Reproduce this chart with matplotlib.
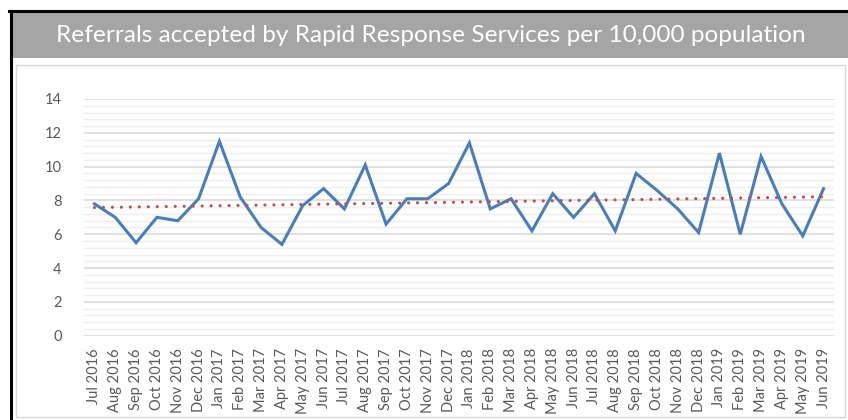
import numpy as np
import matplotlib
matplotlib.use("Agg")
import matplotlib.pyplot as plt
from matplotlib.patches import Rectangle
from matplotlib.lines import Line2D

months = ["Jul 2016", "Aug 2016", "Sep 2016", "Oct 2016", "Nov 2016", "Dec 2016",
          "Jan 2017", "Feb 2017", "Mar 2017", "Apr 2017", "May 2017", "Jun 2017",
          "Jul 2017", "Aug 2017", "Sep 2017", "Oct 2017", "Nov 2017", "Dec 2017",
          "Jan 2018", "Feb 2018", "Mar 2018", "Apr 2018", "May 2018", "Jun 2018",
          "Jul 2018", "Aug 2018", "Sep 2018", "Oct 2018", "Nov 2018", "Dec 2018",
          "Jan 2019", "Feb 2019", "Mar 2019", "Apr 2019", "May 2019", "Jun 2019"]
referrals = [7.8, 7.0, 5.5, 7.0, 6.8, 8.1,
             11.5, 8.2, 6.4, 5.4, 7.7, 8.7,
             7.5, 10.1, 6.6, 8.1, 8.1, 9.0,
             11.4, 7.5, 8.1, 6.2, 8.4, 7.0,
             8.4, 6.2, 9.6, 8.6, 7.5, 6.1,
             10.8, 6.0, 10.6, 7.8, 5.9, 8.7]
title = "Referrals accepted by Rapid Response Services per 10,000 population"

W, H = 848, 420
fig = plt.figure(figsize=(W / 100, H / 100), dpi=100)
plt.rcParams['font.family'] = ['Lato', 'DejaVu Sans']


def fx(px):
    return px / W


def fy(py):
    return 1 - py / H


# frame decorations (behind the axes)
fig.add_artist(Rectangle((fx(16), fy(417)), fx(845) - fx(16), fy(65) - fy(417),
                         transform=fig.transFigure, facecolor="white",
                         edgecolor="#d9d9d9", lw=1, zorder=-2))
fig.add_artist(Rectangle((fx(11), fy(58)), 1 - fx(11), fy(11) - fy(58),
                         transform=fig.transFigure, facecolor="#a5a5a5", lw=0,
                         zorder=-2))
fig.add_artist(Line2D([fx(9), 1], [fy(11), fy(11)], transform=fig.transFigure,
                      color="black", lw=2.2, zorder=-1))
fig.add_artist(Line2D([fx(10.5), fx(10.5)], [fy(11), 0], transform=fig.transFigure,
                      color="black", lw=2.2, zorder=-1))
fig.text(fx(431), fy(36), title, color="white", fontsize=17.6,
         ha="center", va="center")

ax = fig.add_axes([fx(84), fy(335.7), fx(834) - fx(84), fy(99) - fy(335.7)])
ax.set_zorder(1)
ax.patch.set_alpha(0)
x = np.arange(len(months))

ax.set_ylim(0, 14)
ax.set_xlim(-0.5, len(months) - 0.5)
ax.set_yticks(np.arange(0, 15, 2))
ax.set_yticks(np.arange(0, 14.01, 0.4), minor=True)
ax.grid(axis="y", which="major", color="#d9d9d9", lw=1.1)
ax.grid(axis="y", which="minor", color="#efefef", lw=1.0)
ax.set_axisbelow(True)
for s in ax.spines.values():
    s.set_visible(False)

ax.plot(x, referrals, color="#4a7ebb", lw=2.2, solid_joinstyle="miter", zorder=3)

coef = np.polyfit(x, referrals, 1)
ax.plot(x, np.polyval(coef, x), color="#c0504d", lw=2.3,
        linestyle=(0, (0.01, 2.8)), dash_capstyle="round", zorder=4)

ax.set_xticks(x)
ax.set_xticklabels(months, rotation=90, fontsize=10.5, color="#595959")
ax.tick_params(axis="x", length=0, pad=9)
ax.tick_params(axis="y", which="both", length=0, pad=16, labelsize=10.5,
               labelcolor="#595959")

fig.savefig("out.png", dpi=100)
